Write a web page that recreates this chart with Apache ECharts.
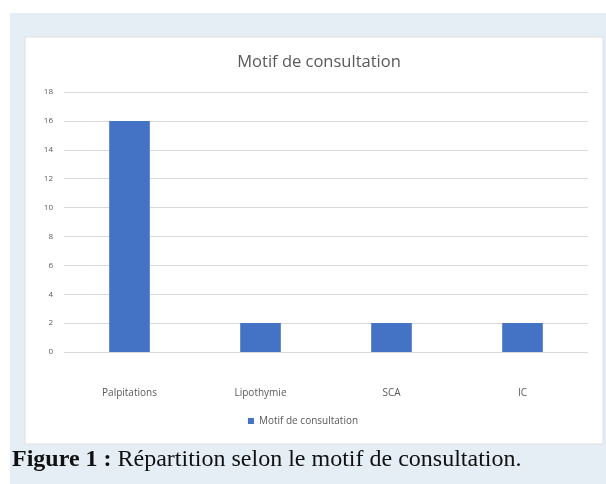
<!DOCTYPE html>
<html><head><meta charset="utf-8">
<script src="https://cdn.jsdelivr.net/npm/echarts@6/dist/echarts.min.js"></script>
<style>html,body{margin:0;padding:0;background:#fff}#c{width:606px;height:484px}</style>
</head><body><div id="c"></div>
<script>
const categories = ['Palpitations', 'Lipothymie', 'SCA', 'IC'];
const seriesName = 'Motif de consultation';
const values = [16, 2, 2, 2];
const yTicks = [0, 2, 4, 6, 8, 10, 12, 14, 16, 18];
const chartTitle = 'Motif de consultation';
const captionBold = 'Figure 1 :';
const captionText = ' Répartition selon le motif de consultation.';

const chart = echarts.init(document.getElementById('c'), null, {renderer: 'canvas'});
chart.setOption({
  animation: false,
  backgroundColor: '#ffffff',
  graphic: [
    {type: 'rect', z: -10, shape: {x: 10, y: 13, width: 596, height: 471}, style: {fill: '#e5edf5'}},
    {type: 'rect', z: -9, shape: {x: 25, y: 37, width: 578, height: 407}, style: {fill: '#ffffff', stroke: '#e0e0e0', lineWidth: 1}},
    {type: 'text', left: 12, top: 448, style: {rich: {b: {fontFamily: 'Liberation Serif', fontWeight: 'bold', fontSize: 24, fill: '#111'}, n: {fontFamily: 'Liberation Serif', fontSize: 24, fill: '#111'}}, text: '{b|' + captionBold + '}{n|' + captionText + '}'}}
  ],
  title: {
    text: chartTitle, left: 314, top: 49, textAlign: 'center',
    textStyle: {fontFamily: 'Open Sans', fontSize: 16.5, fontWeight: 'normal', color: '#595959'}
  },
  legend: {
    data: [seriesName], left: 'center', top: 411, itemWidth: 6, itemHeight: 6, icon: 'rect',
    textStyle: {fontFamily: 'Open Sans', fontSize: 10, color: '#595959'}
  },
  grid: {left: 64, right: 18, top: 92, bottom: 132, containLabel: false},
  xAxis: {
    type: 'category', data: categories,
    axisLine: {show: false}, axisTick: {show: false},
    axisLabel: {fontFamily: 'Open Sans', fontSize: 10, color: '#595959', margin: 36}
  },
  yAxis: {
    type: 'value', min: 0, max: 18, interval: 2,
    axisLine: {show: false}, axisTick: {show: false},
    axisLabel: {fontFamily: 'Open Sans', fontSize: 8, color: '#595959', margin: 11,
      formatter: v => yTicks.includes(v) ? String(v) : ''},
    splitLine: {lineStyle: {color: '#d9d9d9', width: 1}}
  },
  series: [{
    name: seriesName, type: 'bar', data: values, barWidth: '31%',
    itemStyle: {color: '#4472c4'}
  }]
});
</script></body></html>
